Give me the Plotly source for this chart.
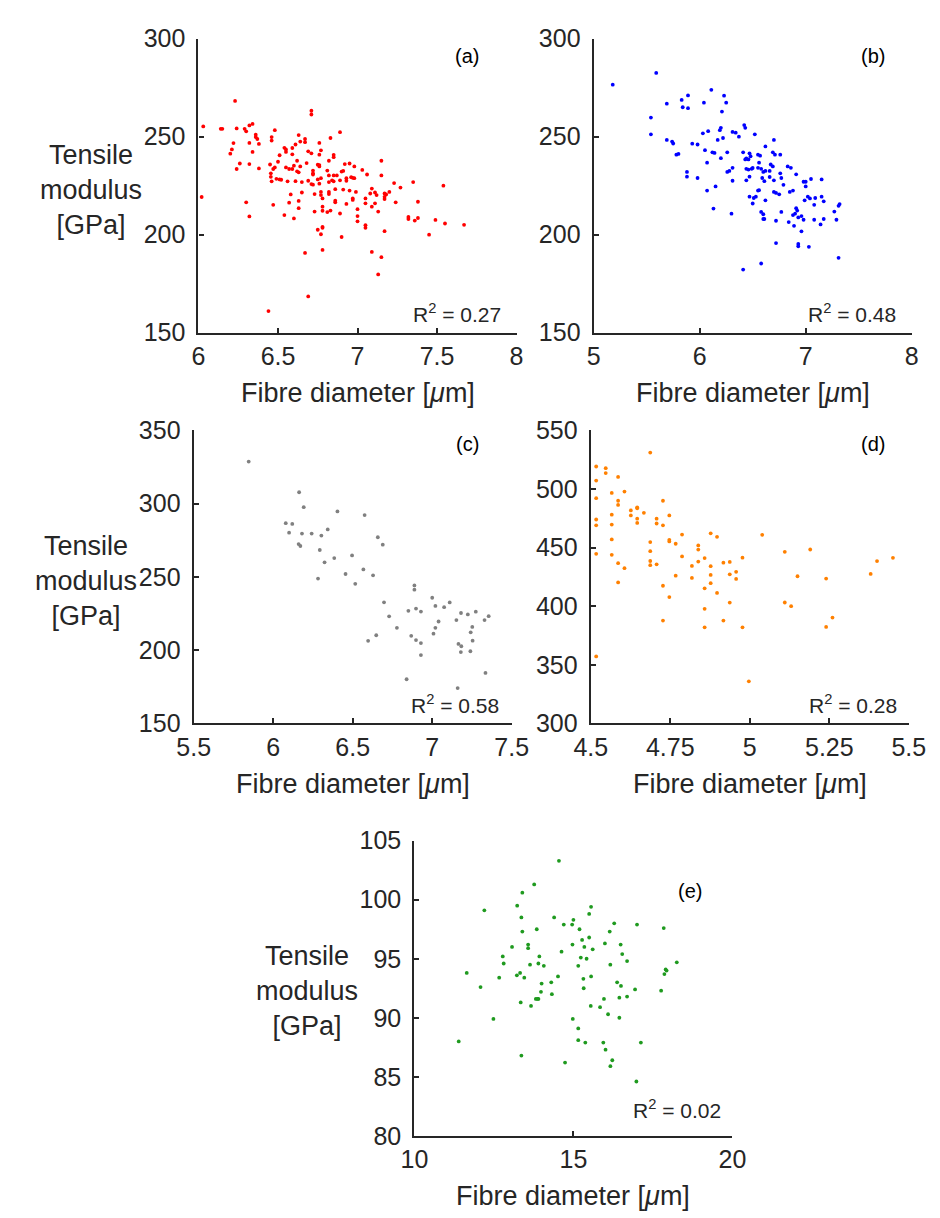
import plotly.graph_objects as go

W, H = 940, 1218

# ---------------- data ----------------
a_pts = [(6.23,268.2),(6.71,263.2),(6.71,261.3),(6.03,255.2),(6.14,254),(6.15,254),(6.24,254.2),(6.29,254),(6.30,252.7),
 (6.32,255.7),(6.34,256.5),(6.48,253.3),(6.36,251),(6.36,249.8),(6.37,248.8),(6.32,246.8),(6.38,246.3),(6.22,246.7),
 (6.21,243.5),(6.20,241.3),(6.34,242.2),(6.46,249.8),(6.46,248),(6.63,250.8),(6.67,248.8),(6.67,247.2),(6.64,247.5),
 (6.83,249.3),(6.89,252.3),(6.76,246.8),(6.54,244.3),(6.55,243.5),(6.59,244.2),(6.61,246),(6.55,242.2),(6.51,240.5),
 (6.59,241),(6.69,242.5),(6.71,241.5),(6.77,243),(6.76,240.8),(6.62,237.7),(6.85,240.7),(6.85,239.5),(6.82,237.7),
 (6.26,236.3),(6.32,236),(6.24,233.5),(6.38,233.8),(6.45,235.8),(6.47,233.5),(6.50,237.2),(6.48,234.3),(6.55,234.3),
 (6.57,233.5),(6.60,235.2),(6.59,233.5),(6.62,232.3),(6.63,231.8),(6.64,234.8),(6.68,236.5),(6.72,232.7),(6.72,231.3),
 (6.72,230.7),(6.75,235.7),(6.76,234.8),(6.76,235.5),(6.81,232.7),(6.82,230.2),(6.85,230.2),(6.87,230.2),(6.90,232.2),
 (6.91,232.5),(6.92,236),(6.95,236.3),(6.98,234.8),(6.93,228.8),(6.93,227.5),(6.96,229.3),(6.97,229),(6.98,228.8),
 (7.03,233),(7.06,230.7),(6.455,231.3),(6.455,229.5),(6.46,227.2),(6.49,228.5),(6.51,228.2),(6.52,228),(6.56,227.2),
 (6.61,227.3),(6.65,226.8),(6.69,227.5),(6.71,225.8),(6.75,228.2),(6.77,228.8),(6.76,226),(6.72,225.5),(6.82,226.8),
 (6.84,227.7),(6.85,227.2),(6.89,227.7),(6.86,223.2),(6.91,223),(6.95,222.5),(6.99,221.8),(6.82,221.8),(6.82,220.7),
 (6.77,221.8),(6.77,220.2),(6.73,220.7),(6.65,221.5),(6.58,220.5),(6.63,217.2),(6.47,215.2),(6.57,216.3),(6.54,210),
 (6.60,208.3),(6.63,213.5),(6.73,211.8),(6.78,214.3),(6.78,212.2),(6.81,211.5),(6.83,212.3),(6.86,217.3),(6.86,216.5),
 (6.89,210.8),(6.93,215.7),(6.97,218.5),(6.97,217.7),(7.00,213),(7.00,209.5),(7.00,206.8),(7.05,218.5),(7.05,216),
 (7.05,204.8),(7.05,203.5),(7.09,223.5),(7.08,221),(7.11,221.5),(7.12,220.2),(7.09,214.3),(7.11,216),(7.13,211.8),
 (7.15,237.7),(7.15,230.2),(7.17,221),(7.18,220.5),(7.17,219.3),(7.17,218.2),(7.20,221.8),(7.23,226.3),(7.27,224),
 (7.24,216.5),(7.35,226.8),(7.38,216.8),(7.32,209),(7.32,208),(7.36,207.2),(7.38,208.5),(7.49,207.5),(7.45,200),
 (7.17,201.8),(7.09,191.2),(7.15,188.5),(7.13,179.7),(6.90,198.8),(6.78,203.5),(6.78,204),(6.75,202.5),(6.77,200.2),
 (6.67,190.7),(6.78,192.2),(6.69,168.5),(6.44,161),(6.30,216.5),(6.32,209.3),(6.02,219.2),(6.78,218.5),(7.54,225),
 (7.55,205.7),(7.67,205)]

b_pts = [(5.18,276.5),(5.59,282.5),(5.54,259.7),(5.54,251.2),(5.69,266.8),(5.69,248.3),(5.74,247.5),(5.75,246.5),
 (5.78,240.8),(5.80,241.2),(5.83,268.7),(5.84,265),(5.89,264.5),(5.89,271),(5.88,232),(5.88,229.6),(5.93,246.4),
 (5.98,246),(5.98,228.9),(6.04,267.3),(6.11,273.9),(6.03,251.7),(6.08,252.8),(6.05,243.1),(6.07,236.7),(6.12,242),
 (6.14,241.7),(6.15,224.6),(6.13,213.3),(6.07,222.5),(6.21,262.8),(6.23,270.9),(6.25,267.3),(6.19,253.3),(6.20,254.5),
 (6.22,249.3),(6.17,248.3),(6.20,239),(6.26,242),(6.28,232.5),(6.31,234.1),(6.31,227.5),(6.26,232),(6.30,210.7),
 (6.31,252.4),(6.34,252),(6.37,250),(6.42,255.9),(6.43,254.5),(6.52,251.2),(6.41,242),(6.43,238.4),(6.44,238.9),
 (6.46,238.4),(6.47,241.5),(6.48,240),(6.44,233.6),(6.46,233.2),(6.49,233.6),(6.50,234),(6.44,227.7),(6.47,229.6),
 (6.47,219.4),(6.51,218.7),(6.50,215.9),(6.53,219.4),(6.55,240.8),(6.57,240.3),(6.56,236.7),(6.55,234.1),(6.58,233.6),
 (6.60,232),(6.62,232.5),(6.62,245),(6.59,228.9),(6.61,227.3),(6.55,222.5),(6.56,222.7),(6.62,217.5),(6.58,211.6),
 (6.60,210.4),(6.60,208),(6.61,208),(6.58,185.3),(6.41,182.2),(6.66,229.4),(6.67,235.8),(6.69,234.8),(6.66,232.5),
 (6.70,248.3),(6.69,242),(6.71,240.8),(6.70,227.7),(6.70,221.8),(6.72,221.3),(6.75,220.6),(6.76,240.8),(6.76,231.3),
 (6.77,228.9),(6.79,225.4),(6.77,211.6),(6.72,207.1),(6.72,195.7),(6.83,234.8),(6.86,234.1),(6.85,221.8),(6.88,222.5),
 (6.91,230.8),(6.84,206.4),(6.88,210),(6.90,210.7),(6.91,213.5),(6.92,212.3),(6.93,208.8),(6.96,209.5),(6.89,204.5),
 (6.93,195.3),(6.93,194.1),(6.96,201.7),(6.98,227),(7.00,227),(7.00,224.6),(6.99,217.5),(6.98,207.6),(7.03,193.8),
 (7.02,219.4),(7.04,218.5),(7.05,228.4),(7.08,215.2),(7.09,218.7),(7.08,207.6),(7.14,205.2),(7.15,228.2),(7.15,219.4),
 (7.17,217),(7.17,208),(7.27,211.8),(7.29,207.6),(7.31,214.7),(7.32,215.6),(7.31,188.2)]

c_pts = [(5.846,328.7),(6.163,307.8),(6.192,297.6),(6.079,286.7),(6.12,286.2),(6.10,280.2),(6.181,279.6),(6.242,279.6),
 (6.303,278.2),(6.343,282.4),(6.404,294.7),(6.575,292.2),(6.16,272.4),(6.171,271.1),(6.293,268.4),(6.323,260),
 (6.282,248.9),(6.384,262.9),(6.496,264.7),(6.455,252),(6.516,245.3),(6.567,255.1),(6.628,251.1),(6.658,277.1),
 (6.689,272),(6.697,232.7),(6.729,223.1),(6.778,215.3),(6.597,206.4),(6.648,210.2),(6.839,180.2),(6.888,244.2),
 (6.888,241.3),(6.85,226.9),(6.898,228.4),(6.929,226.4),(6.868,209.8),(6.898,206.9),(6.929,204.9),(6.929,196.7),
 (7.00,235.8),(7.02,230.2),(7.04,219.6),(7.02,215.3),(7.008,211.3),(7.075,229.4),(7.11,232.6),(7.152,220.6),
 (7.181,225.4),(7.224,224.4),(7.274,226.3),(7.252,215.9),(7.242,212.2),(7.254,206.5),(7.165,204.3),(7.183,202.7),
 (7.18,198.7),(7.24,199.3),(7.329,220.6),(7.355,223.2),(7.335,184.5),(7.16,174.2)]

d_pts = [(4.517,519.2),(4.517,507.2),(4.517,492.2),(4.517,474),(4.517,469),(4.517,444.7),(4.517,357.2),(4.547,517.8),
 (4.547,513.6),(4.566,496.7),(4.566,478.1),(4.566,469.7),(4.566,457),(4.566,443.9),(4.586,510.3),(4.586,490),
 (4.586,486.4),(4.586,436.7),(4.586,420.3),(4.606,497.8),(4.606,432.5),(4.626,481.7),(4.626,477.5),(4.646,484.4),
 (4.646,483.6),(4.646,474.7),(4.646,471.1),(4.667,479.7),(4.687,531.1),(4.707,474.7),(4.707,470.6),(4.687,454.7),
 (4.687,447),(4.687,438.6),(4.687,435),(4.707,435.8),(4.727,490),(4.727,469),(4.747,477.5),(4.747,456.7),(4.747,455.3),
 (4.727,417.5),(4.747,407.8),(4.727,387.8),(4.767,453.3),(4.787,461.1),(4.787,442.5),(4.767,426.1),(4.818,434.4),
 (4.818,424.2),(4.838,451.9),(4.838,448.3),(4.838,438.1),(4.858,441.1),(4.858,415.3),(4.858,397.8),(4.858,382),
 (4.877,462.2),(4.877,434.2),(4.877,426.7),(4.877,419.7),(4.897,459.2),(4.897,411.4),(4.917,437.2),(4.917,387.8),
 (4.937,437.8),(4.937,427.2),(4.937,403.1),(4.957,429.4),(4.957,423.3),(4.977,441.4),(4.977,382),(4.997,336),
 (5.039,460.9),(5.11,446.4),(5.11,403.2),(5.13,400.1),(5.15,425.6),(5.19,448.4),(5.24,423.6),(5.24,382.4),
 (5.26,390.3),(5.38,427.6),(5.40,438.5),(5.45,441.3)]

e_pts = [(14.545,103.3),(13.767,101.3),(13.394,100.6),(12.2,99.1),(13.232,99.5),(13.364,98.5),(15.555,99.4),(15.495,98.8),
 (14.394,98.5),(14.697,97.9),(14.96,97.9),(15.0,98.3),(15.192,97.5),(13.848,97.5),(13.394,97.3),(16.283,98.0),
 (16.141,97.3),(17.0,97.9),(17.84,97.6),(15.273,96.6),(15.495,96.8),(14.97,96.2),(15.343,96.0),(15.606,95.8),
 (15.99,96.3),(16.485,96.2),(16.535,95.4),(16.687,94.8),(16.16,94.5),(15.232,95.1),(15.414,95.0),(15.152,94.4),
 (14.626,95.6),(13.07,96.0),(13.576,96.2),(13.576,95.9),(12.778,95.2),(12.808,94.6),(13.929,95.2),(13.636,94.5),
 (13.899,94.6),(14.07,94.4),(11.646,93.8),(12.666,93.4),(13.222,93.6),(13.323,93.8),(13.455,93.4),(14.515,93.5),
 (14.303,93.0),(14.0,92.9),(13.98,92.2),(14.323,92.0),(15.313,93.3),(15.556,93.5),(15.323,92.5),(16.374,93.0),
 (16.495,92.7),(16.939,92.4),(17.758,92.3),(17.9,94.1),(17.93,94.0),(17.86,93.7),(18.25,94.7),(13.818,91.6),
 (13.869,91.6),(13.9,91.6),(13.343,91.3),(13.667,91.0),(12.08,92.6),(15.96,91.6),(16.444,91.7),(16.687,91.8),
 (15.545,91.0),(15.838,90.9),(16.09,90.3),(16.444,90.0),(14.98,89.9),(12.485,89.9),(15.152,89.1),(15.152,88.1),
 (15.374,87.9),(15.94,87.9),(16.01,87.3),(16.222,86.4),(16.162,85.9),(17.121,87.9),(11.394,88.0),(13.364,86.8),
 (14.737,86.2),(16.98,84.6)]

panel_labels = ["(a)", "(b)", "(c)", "(d)", "(e)"]
r2_values = ["0.27", "0.48", "0.58", "0.28", "0.02"]
colors = ["#ff0000", "#0000ff", "#808080", "#ff8000", "#1f9a1f"]
x_ranges = [[6, 8], [5, 8], [5.5, 7.5], [4.5, 5.5], [10, 20]]
y_ranges = [[150, 300], [150, 300], [150, 350], [300, 550], [80, 105]]
x_ticks = [[6, 6.5, 7, 7.5, 8], [5, 6, 7, 8], [5.5, 6, 6.5, 7, 7.5], [4.5, 4.75, 5, 5.25, 5.5], [10, 15, 20]]
x_ticktext = [["6", "6.5", "7", "7.5", "8"], ["5", "6", "7", "8"], ["5.5", "6", "6.5", "7", "7.5"],
              ["4.5", "4.75", "5", "5.25", "5.5"], ["10", "15", "20"]]
y_ticks = [[150, 200, 250, 300], [150, 200, 250, 300], [150, 200, 250, 300, 350],
           [300, 350, 400, 450, 500, 550], [80, 85, 90, 95, 100, 105]]
xlabel = "Fibre diameter [<i>\u03bc</i>m]"
ylabel = "Tensile<br>modulus<br>[GPa]"

# ---------------- layout (pixel boxes of the axes) ----------------
# (left, right, top, bottom) in pixels
boxes = [(180, 510, 17, 318), (590, 920, 17, 318), (175, 505, 418, 718), (587, 917, 418, 718), (404, 734, 838, 1140)]
ylabel_pos = {0: (68, 172), 2: (63, 572), 4: (293, 992)}
plabel_off = [(279, 18), (290, 18), (284, 14), (293, 14), (286, 51)]
r2_off = [(316, 20), (316, 20), (319, 20), (320, 20), (320, 27)]

FONT = "Liberation Sans, Arial, Helvetica, sans-serif"
INK = "#262626"


def px(x):
    return x / W


def py(y):
    return 1 - y / H


all_pts = [a_pts, b_pts, c_pts, d_pts, e_pts]
fig = go.Figure()
layout = dict(width=W, height=H, margin=dict(l=0, r=0, t=0, b=0), paper_bgcolor="white",
              plot_bgcolor="white", showlegend=False, annotations=[])

for i, pts in enumerate(all_pts):
    n = "" if i == 0 else str(i + 1)
    L, R, T, B = boxes[i]
    fig.add_trace(go.Scatter(x=[p[0] for p in pts], y=[p[1] for p in pts], mode="markers",
                             xaxis="x" + n, yaxis="y" + n, cliponaxis=False,
                             marker=dict(size=3.8, color=colors[i], line=dict(width=0))))
    common = dict(showline=True, linecolor=INK, linewidth=2.2, ticks="inside", ticklen=5, tickwidth=1.5,
                  tickcolor=INK, showgrid=False, zeroline=False,
                  tickfont=dict(family=FONT, size=25, color=INK))
    layout["xaxis" + n] = dict(common, domain=[px(L), px(R)], anchor="y" + n, range=x_ranges[i],
                               tickmode="array", tickvals=x_ticks[i], ticktext=x_ticktext[i])
    layout["yaxis" + n] = dict(common, domain=[py(B), py(T)], anchor="x" + n, range=y_ranges[i],
                               tickmode="array", tickvals=y_ticks[i], ticklabelstandoff=6)
    ann = layout["annotations"]
    ann.append(dict(text=xlabel, x=px((L + R) / 2), y=py(B + 62), xref="paper", yref="paper",
                    showarrow=False, xanchor="center", yanchor="middle",
                    font=dict(family=FONT, size=27, color=INK)))
    ox, oy = plabel_off[i]
    ann.append(dict(text=panel_labels[i], x=px(L + ox), y=py(T + oy), xref="paper", yref="paper",
                    showarrow=False, xanchor="center", yanchor="middle",
                    font=dict(family=FONT, size=20, color="black")))
    rx, ry = r2_off[i]
    ann.append(dict(text="R<sup>2</sup> = " + r2_values[i], x=px(L + rx), y=py(B - ry), xref="paper",
                    yref="paper", showarrow=False, xanchor="right", yanchor="middle",
                    font=dict(family=FONT, size=21, color=INK)))
    if i in ylabel_pos:
        cx, cy = ylabel_pos[i]
        ann.append(dict(text=ylabel, x=px(cx), y=py(cy), xref="paper", yref="paper", showarrow=False,
                        xanchor="center", yanchor="middle", align="center",
                        font=dict(family=FONT, size=27, color=INK)))

fig.update_layout(**layout)
fig.write_html("out.html")
